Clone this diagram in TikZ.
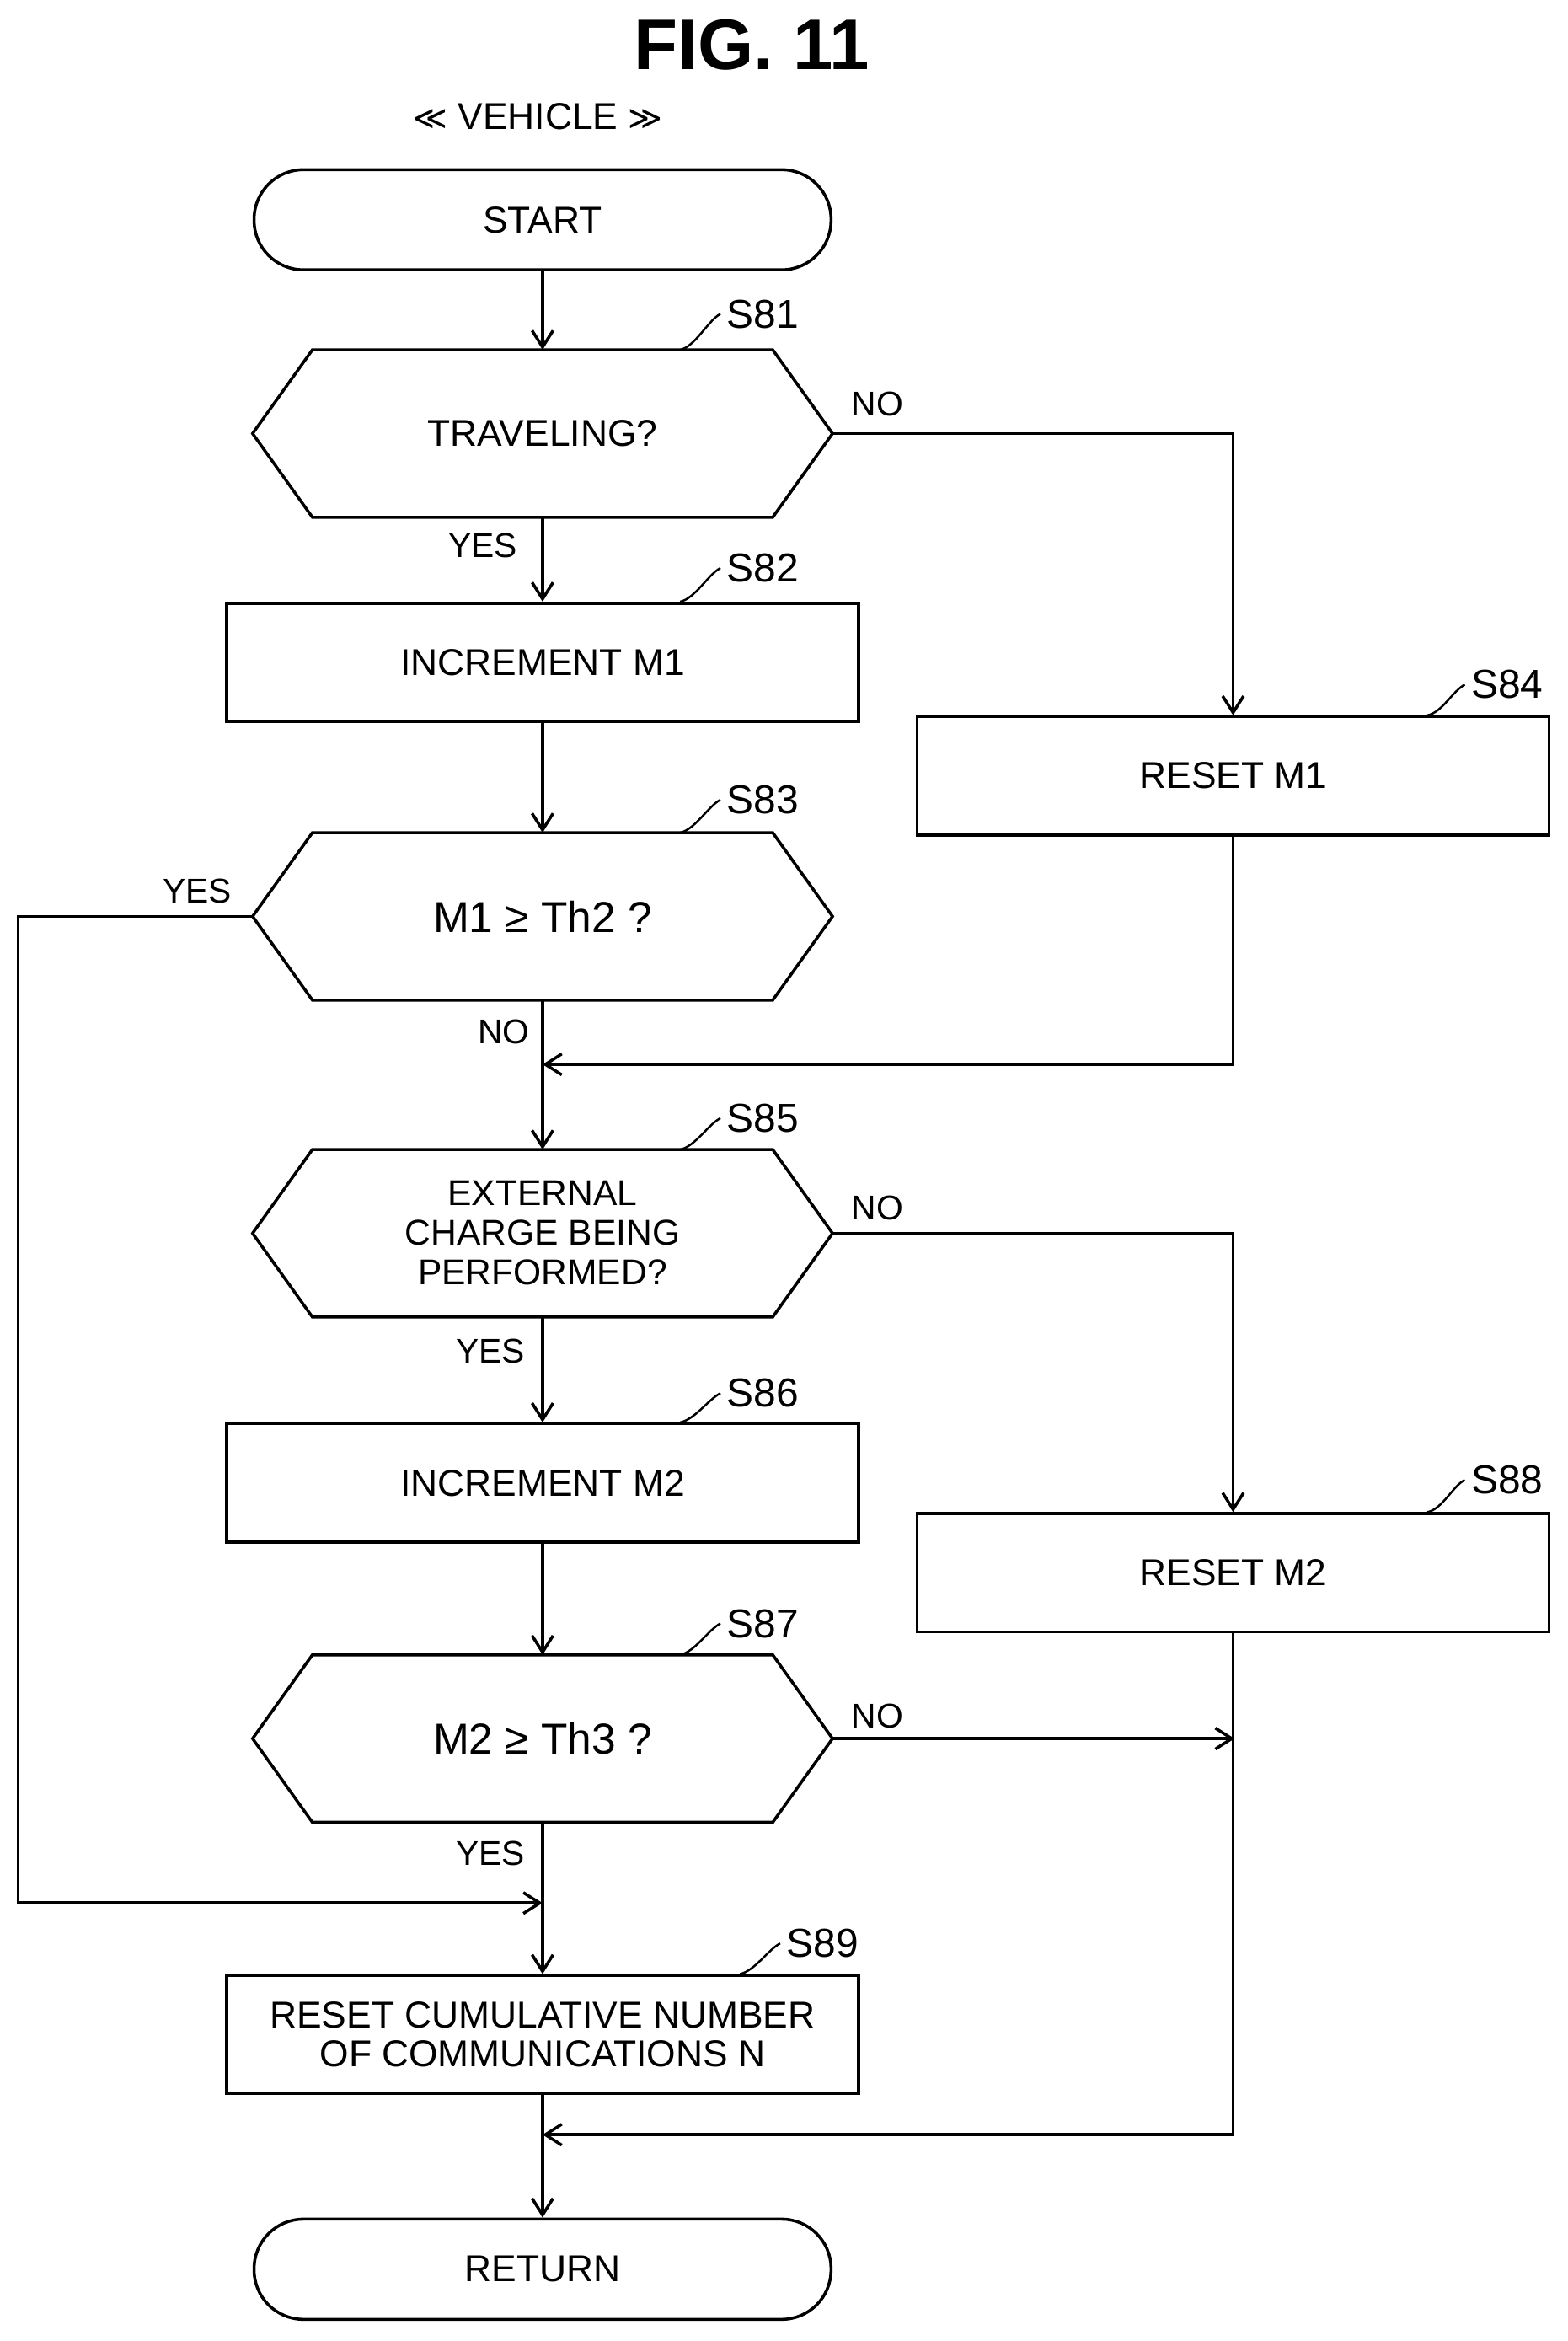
\documentclass[tikz,border=0pt]{standalone}
\usepackage{fontspec}
\setmainfont{Liberation Sans}
\newfontfamily\djv{DejaVu Sans}
\usetikzlibrary{arrows.meta,calc}
\begin{document}
\begin{tikzpicture}[x=1pt,y=-1pt,line width=2pt,
  every node/.style={font=\fontsize{25}{27}\selectfont},
  box/.style={draw,minimum width=423pt,minimum height=79pt,align=center},
  term/.style={draw,rounded corners=33pt,minimum width=386pt,minimum height=67pt},
  hexn/.style={minimum width=386pt,minimum height=110pt,align=center},
  big/.style={font=\fontsize{29}{31}\selectfont},
  lab/.style={font=\fontsize{27}{29}\selectfont,anchor=west},
  yn/.style={font=\fontsize{23}{25}\selectfont},
  arr/.style={-{Straight Barb[length=11pt,width=14pt]}},
  lead/.style={line width=1.4pt}]
\useasboundingbox (0,0) rectangle (1049,1566);
\newcommand{\hexa}[1]{\draw (#1.west) -- ($(#1.north west)+(40,0)$) -- ($(#1.north east)+(-40,0)$) -- (#1.east) -- ($(#1.south east)+(-40,0)$) -- ($(#1.south west)+(40,0)$) -- cycle;}
\node[font=\fontsize{48}{50}\selectfont\bfseries] (title) at (503,30) {FIG. 11};
\node (veh) at (360,78) {{\djv\fontsize{22}{24}\selectfont ≪} VEHICLE {\djv\fontsize{22}{24}\selectfont ≫}};
\node[term] (start) at (363,147) {START};
\node[hexn] (s81) at (363,290) {TRAVELING?}; \hexa{s81}
\node[box] (s82) at (363,443) {INCREMENT M1};
\node[box] (s84) at (825,519) {RESET M1};
\node[hexn,big] (s83) at (363,613) {M1 ≥ Th2 ?}; \hexa{s83}
\node[hexn,font=\fontsize{24}{26.5}\selectfont] (s85) at (363,825) {EXTERNAL\\CHARGE BEING\\PERFORMED?}; \hexa{s85}
\node[box] (s86) at (363,992) {INCREMENT M2};
\node[box] (s88) at (825,1052) {RESET M2};
\node[hexn,big] (s87) at (363,1163) {M2 ≥ Th3 ?}; \hexa{s87}
\node[box,font=\fontsize{25}{26}\selectfont] (s89) at (363,1361) {RESET CUMULATIVE NUMBER\\OF COMMUNICATIONS N};
\node[term] (ret) at (363,1518) {RETURN};
% step labels
\node[lab] (l81) at (482,210) {S81}; \draw[lead] ($(s81.north)+(92,0)$) .. controls +(10,-2) and +(-8,4) .. (l81.west);
\node[lab] (l82) at (482,380) {S82}; \draw[lead] ($(s82.north)+(92,0)$) .. controls +(10,-2) and +(-8,4) .. (l82.west);
\node[lab] (l84) at (980,458) {S84}; \draw[lead] ($(s84.north)+(130,0)$) .. controls +(10,-2) and +(-8,4) .. (l84.west);
\node[lab] (l83) at (482,535) {S83}; \draw[lead] ($(s83.north)+(92,0)$) .. controls +(10,-2) and +(-8,4) .. (l83.west);
\node[lab] (l85) at (482,748) {S85}; \draw[lead] ($(s85.north)+(92,0)$) .. controls +(10,-2) and +(-8,4) .. (l85.west);
\node[lab] (l86) at (482,932) {S86}; \draw[lead] ($(s86.north)+(92,0)$) .. controls +(10,-2) and +(-8,4) .. (l86.west);
\node[lab] (l88) at (980,990) {S88}; \draw[lead] ($(s88.north)+(130,0)$) .. controls +(10,-2) and +(-8,4) .. (l88.west);
\node[lab] (l87) at (482,1086) {S87}; \draw[lead] ($(s87.north)+(92,0)$) .. controls +(10,-2) and +(-8,4) .. (l87.west);
\node[lab] (l89) at (522,1300) {S89}; \draw[lead] ($(s89.north)+(132,0)$) .. controls +(10,-2) and +(-8,4) .. (l89.west);
% yes/no
\node[yn] (y81) at (323,365) {YES};
\node[yn] (n81) at (587,270) {NO};
\node[yn] (y83) at (132,596) {YES};
\node[yn] (n83) at (337,690) {NO};
\node[yn] (n85) at (587,808) {NO};
\node[yn] (y85) at (328,904) {YES};
\node[yn] (n87) at (587,1148) {NO};
\node[yn] (y87) at (328,1240) {YES};
% coordinates
\coordinate (j1) at (363,712);
\coordinate (j2) at (363,1273);
\coordinate (j3) at (363,1428);
\coordinate (j4) at (826,1163);
% connectors
\draw[arr] (start) -- (s81);
\draw[arr] (s81) -- (s82);
\draw[arr] (s81.east) -| (s84.north);
\draw[arr] (s82) -- (s83);
\draw (s83) -- (j1);
\draw[arr] (s84.south) |- (j1);
\draw[arr] (j1) -- (s85);
\draw[arr] (s85) -- (s86);
\draw[arr] (s85.east) -| (s88.north);
\draw[arr] (s86) -- (s87);
\draw[arr] (s87.east) -- (j4);
\draw (s87) -- (j2);
\draw[arr] (s83.west) -- (12,613) -- (12,1273) -- (j2);
\draw[arr] (j2) -- (s89);
\draw (s89) -- (j3);
\draw[arr] (s88.south) |- (j3);
\draw[arr] (j3) -- (ret);
\end{tikzpicture}
\end{document}
